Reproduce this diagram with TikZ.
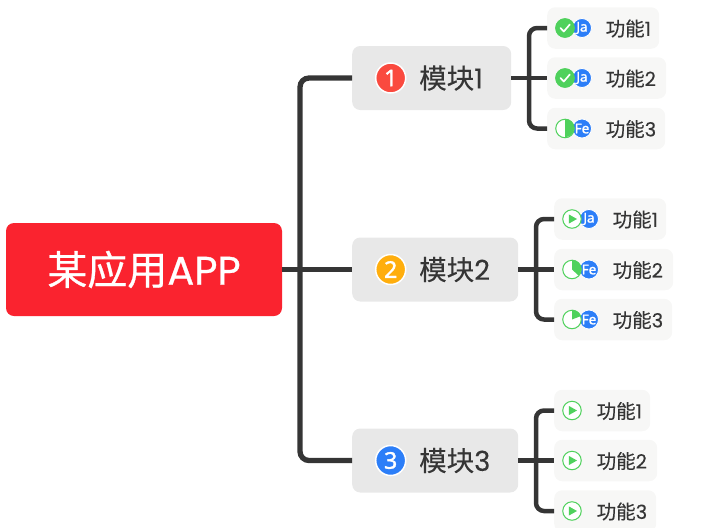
\documentclass[tikz,border=0pt]{standalone}
\usepackage{fontspec}
\setmainfont[FakeBold=0.15]{Poppins}
\newfontfamily\cjk[FakeBold=0.15]{Noto Sans CJK SC}
\newfontfamily\rootfont[FakeBold=0.7]{Poppins}
\newfontfamily\rootcjk[FakeBold=0.7]{Noto Sans CJK SC}
\newfontfamily\tagfont[FakeBold=1.6]{Noto Sans}
\usetikzlibrary{calc}
\definecolor{rootred}{HTML}{FA232F}
\definecolor{linegray}{HTML}{353535}
\definecolor{modgray}{HTML}{E8E8E8}
\definecolor{featgray}{HTML}{F7F7F6}
\definecolor{okgreen}{HTML}{4FD15C}
\definecolor{tagblue}{HTML}{2C7EF8}
\definecolor{tagred}{HTML}{FA4A3F}
\definecolor{tagorange}{HTML}{FFAE0D}
\tikzset{
  rootbox/.style={fill=rootred, rounded corners=8pt, minimum width=276pt, minimum height=93pt, text=white, font=\fontsize{40}{40}\selectfont, inner sep=0pt},
  modbox/.style={fill=modgray, rounded corners=8pt, minimum height=64pt, anchor=west, inner sep=0pt},
  featbox/.style={fill=featgray, rounded corners=8pt, minimum height=41.5pt, anchor=west, inner sep=0pt},
  modtext/.style={anchor=west, inner sep=0pt, text=linegray, font=\fontsize{27.5}{27}\selectfont},
  feattext/.style={anchor=west, inner sep=0pt, text=linegray, font=\fontsize{19.5}{20}\selectfont},
  badge/.style={circle, draw=white, line width=1.5pt, minimum size=30pt, inner sep=0pt, text=white, font=\fontsize{23}{23}\selectfont\tagfont},
  month/.style={circle, draw=white, line width=0.8pt, fill=tagblue, minimum size=19pt, inner sep=0pt, text=white, font=\fontsize{13.5}{13}\selectfont\tagfont},
  status/.style={circle, draw=okgreen, line width=1pt, fill=white, minimum size=18.5pt, inner sep=0pt},
  trunk/.style={draw=linegray, line width=5.3pt, rounded corners=9pt},
  branch/.style={draw=linegray, line width=4.5pt, rounded corners=8pt},
}
% marks drawn inside a status node
\newcommand{\markdone}[1]{\fill[okgreen] (#1) circle (9.7pt);
  \draw[white, line width=1.7pt, line cap=round, line join=round] ($(#1)+(-4.5,0)$) -- ($(#1)+(-1.2,3.5)$) -- ($(#1)+(4.8,-3.5)$);}
\newcommand{\markplay}[1]{\fill[okgreen] ($(#1)+(-3.2,-4.6)$) -- ($(#1)+(5,0)$) -- ($(#1)+(-3.2,4.6)$) -- cycle;}
% start angle 90, clockwise to #2
\newcommand{\markpie}[2]{\fill[okgreen] (#1.center) -- (#1.north) arc[start angle=90, end angle=#2, radius=9.2pt] -- cycle;}
\begin{document}
\begin{tikzpicture}[x=1pt, y=-1pt]
  \useasboundingbox (0,0) rectangle (705,528);

  % --- root ---
  \node[rootbox] (root) at (144,269.5) {{\rootcjk 某应用}{\rootfont APP}};

  % --- modules ---
  \node[modbox, minimum width=159pt] (mod1) at (352,78) {};
  \node[modbox, minimum width=166pt] (mod2) at (352,269.5) {};
  \node[modbox, minimum width=166pt] (mod3) at (352,460.5) {};
  \node[badge, fill=tagred] (badge1) at (390.7,78) {1};
  \node[badge, fill=tagorange] (badge2) at (390.7,269.5) {2};
  \node[badge, fill=tagblue] (badge3) at (390.7,460.5) {3};
  \node[modtext] (modtext1) at (419,78) {{\cjk 模块}1};
  \node[modtext] (modtext2) at (419,269.5) {{\cjk 模块}2};
  \node[modtext] (modtext3) at (419,460.5) {{\cjk 模块}3};

  % --- features of module 1 ---
  \node[featbox, minimum width=112pt] (f11) at (547,28) {};
  \node[featbox, minimum width=119pt] (f12) at (547,78) {};
  \node[featbox, minimum width=118pt] (f13) at (547,128.5) {};
  \node[month] (m11) at (582,28) {Ja};
  \node[month] (m12) at (582,78) {Ja};
  \node[month] (m13) at (582,128.5) {Fe};
  \node[status] (s11) at (565,28) {};
  \node[status] (s12) at (565,78) {};
  \node[status] (s13) at (565,128.5) {};
  \markdone{s11}
  \markdone{s12}
  \markpie{s13}{-90}
  \node[feattext] (t11) at (605.5,28.5) {{\cjk 功能}1};
  \node[feattext] (t12) at (605.5,78.5) {{\cjk 功能}2};
  \node[feattext] (t13) at (605.5,129) {{\cjk 功能}3};

  % --- features of module 2 ---
  \node[featbox, minimum width=112pt] (f21) at (554,219) {};
  \node[featbox, minimum width=119pt] (f22) at (554,269.5) {};
  \node[featbox, minimum width=118pt] (f23) at (554,319.5) {};
  \node[month] (m21) at (589,219) {Ja};
  \node[month] (m22) at (589,269.5) {Fe};
  \node[month] (m23) at (589,319.5) {Fe};
  \node[status] (s21) at (572,219) {};
  \node[status] (s22) at (572,269.5) {};
  \node[status] (s23) at (572,319.5) {};
  \markplay{s21}
  \markpie{s22}{-45}
  \markpie{s23}{18}
  \node[feattext] (t21) at (612.5,219.5) {{\cjk 功能}1};
  \node[feattext] (t22) at (612.5,270) {{\cjk 功能}2};
  \node[feattext] (t23) at (612.5,320) {{\cjk 功能}3};

  % --- features of module 3 ---
  \node[featbox, minimum width=96pt] (f31) at (554,410.5) {};
  \node[featbox, minimum width=103pt] (f32) at (554,460.5) {};
  \node[featbox, minimum width=102pt] (f33) at (554,511) {};
  \node[status] (s31) at (572,410.5) {};
  \node[status] (s32) at (572,460.5) {};
  \node[status] (s33) at (572,511) {};
  \markplay{s31}
  \markplay{s32}
  \markplay{s33}
  \node[feattext] (t31) at (596.5,411) {{\cjk 功能}1};
  \node[feattext] (t32) at (596.5,461) {{\cjk 功能}2};
  \node[feattext] (t33) at (596.5,511.5) {{\cjk 功能}3};

  % --- connectors ---
  \coordinate (fork0) at (300,269.5);
  \draw[trunk] (root.east) -- (mod2.west);
  \draw[trunk] (mod1.west) -| (fork0) |- (mod3.west);
  \coordinate (fork1) at (529,78);
  \draw[branch] (mod1.east) -- (f12.west);
  \draw[branch] (f11.west) -| (fork1) |- (f13.west);
  \coordinate (fork2) at (536,269.5);
  \draw[branch] (mod2.east) -- (f22.west);
  \draw[branch] (f21.west) -| (fork2) |- (f23.west);
  \coordinate (fork3) at (536,460.5);
  \draw[branch] (mod3.east) -- (f32.west);
  \draw[branch] (f31.west) -| (fork3) |- (f33.west);
\end{tikzpicture}
\end{document}
